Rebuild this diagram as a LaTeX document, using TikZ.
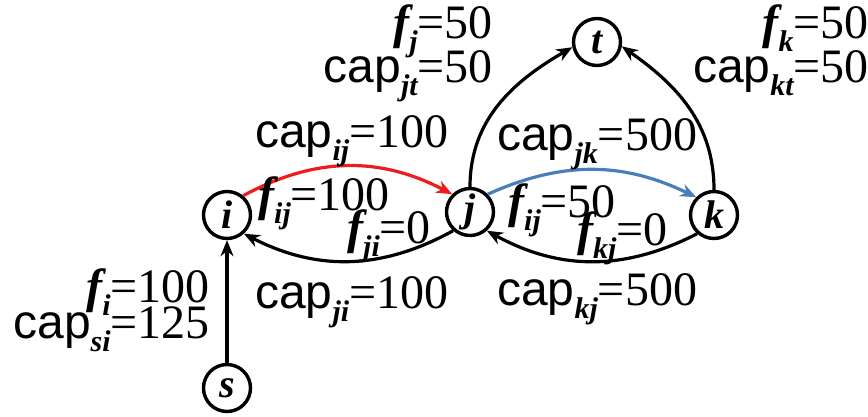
\documentclass[tikz,border=0pt]{standalone}
\usepackage{fontspec}
\setmainfont{Liberation Serif}
\setsansfont{Liberation Sans}
\usetikzlibrary{arrows.meta}
\definecolor{myred}{HTML}{EE1C1C}
\definecolor{myblue}{HTML}{4A7EBB}
\newcommand\capx{{\sffamily cap}}
\newcommand\sbx[1]{\raisebox{-13pt}{\fontsize{30}{30}\selectfont\bfseries\itshape #1}}
\newcommand\ff{{\bfseries\itshape f}}
\begin{document}
\begin{tikzpicture}[x=1pt,y=1pt,
  vtx/.style={circle,draw,line width=3.4pt,minimum size=47pt,inner sep=0pt,font=\fontsize{40}{40}\selectfont\bfseries\itshape},
  lab/.style={anchor=base west,inner sep=0pt,font=\fontsize{48}{50}\selectfont},
  edge/.style={line width=3.2pt,-{Stealth[length=16pt,width=13pt]}}]
\useasboundingbox (0,0) rectangle (868,-416);
\node[vtx] (i) at (227,-215) {i};
\node[vtx] (j) at (470,-212) {j};
\node[vtx] (k) at (714,-215) {k};
\node[vtx] (t) at (597,-42) {t};
\node[vtx] (s) at (227,-388) {s};

\draw[edge,myred] (i.50) to[bend left=28] (j.135);
\draw[edge] (j.228) to[bend left=28] (i.312);
\draw[edge,myblue] (j.45) to[bend left=25] (k.135);
\draw[edge] (k.228) to[bend left=28] (j.312);
\draw[edge] (j.north) to[out=90,in=210] (t.192);
\draw[edge] (k.north) to[out=90,in=-35] (t.-10);
\draw[edge] (s) -- (i);

\node[lab] (l1) at (255,-147) {\capx\sbx{ij}=100};
\node[lab] (l2) at (258,-210) {\ff\sbx{ij}=100};
\node[lab] (l3) at (347,-243) {\ff\sbx{ji}=0};
\node[lab] (l4) at (255,-308) {\capx\sbx{ji}=100};
\node[lab] (l5) at (497,-150) {\capx\sbx{jk}=500};
\node[lab] (l6) at (508,-217) {\ff\sbx{ij}=50};
\node[lab] (l7) at (577,-245) {\ff\sbx{kj}=0};
\node[lab] (l8) at (497,-305) {\capx\sbx{kj}=500};
\node[lab,anchor=base east] (l9) at (869,-38) {\ff\sbx{k}=50};
\node[lab,anchor=base east] (l10) at (869,-82) {\capx\sbx{kt}=50};
\node[lab,anchor=base east] (l11) at (493,-38) {\ff\sbx{j}=50};
\node[lab,anchor=base east] (l12) at (493,-82) {\capx\sbx{jt}=50};
\node[lab,anchor=base east] (l13) at (210,-302) {\ff\sbx{i}=100};
\node[lab,anchor=base east] (l14) at (210,-338) {\capx\sbx{si}=125};
\end{tikzpicture}
\end{document}
